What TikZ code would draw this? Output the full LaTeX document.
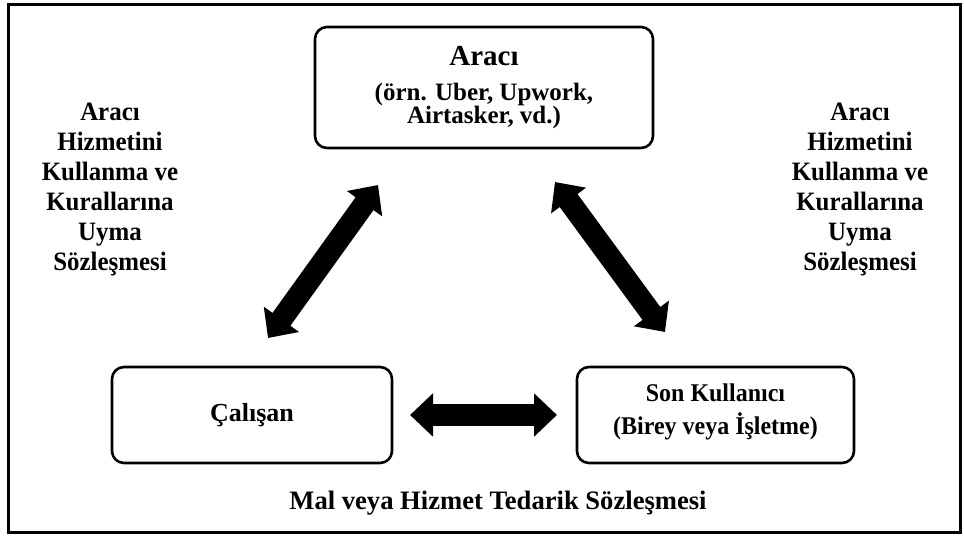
\documentclass[tikz,border=0pt]{standalone}
\usepackage{fontspec}
\setmainfont{Liberation Serif}
\newfontfamily\narrowC[FakeStretch=0.94]{Liberation Serif}
\usetikzlibrary{arrows.meta}
\begin{document}
\begin{tikzpicture}[x=1pt,y=-1pt,
  box/.style={draw, line width=2.6pt, rounded corners=12pt, inner sep=0pt},
  lbl/.style={align=center, font=\narrowC\bfseries\fontsize{26.5}{30}\selectfont},
  dblarrow/.style={line width=22pt, {Triangle[width=42pt 0, length=23pt 0]}-{Triangle[width=42pt 0, length=23pt 0]}}]
\useasboundingbox (0,0) rectangle (964,538);
\draw[line width=3pt] (8.5,4.5) rectangle (960,532);
% boxes
\node[box, minimum width=338pt, minimum height=121pt] (araci) at (484,87.5) {};
\node[box, minimum width=280pt, minimum height=96pt] (calisan) at (252,415) {};
\node[box, minimum width=277pt, minimum height=96pt] (son) at (715.5,415) {};
% box texts
\node[font=\bfseries\fontsize{29}{30}\selectfont] (t1) at (484,56) {Aracı};
\node[align=center, font=\bfseries\fontsize{25}{21}\selectfont] (t2) at (484,106) {(örn. Uber, Upwork,\\Airtasker, vd.)};
\node[font=\bfseries\fontsize{26}{30}\selectfont] (t3) at (252,415) {Çalışan};
\node[align=center, font=\narrowC\bfseries\fontsize{25.5}{33}\selectfont] (t4) at (715.5,412) {Son Kullanıcı\\(Birey veya İşletme)};
% labels
\node[lbl] (l1) at (110,189) {Aracı\\Hizmetini\\Kullanma ve\\Kurallarına\\Uyma\\Sözleşmesi};
\node[lbl] (l2) at (860,189) {Aracı\\Hizmetini\\Kullanma ve\\Kurallarına\\Uyma\\Sözleşmesi};
\node[font=\bfseries\fontsize{26.6}{30}\selectfont] (l3) at (498,503) {Mal veya Hizmet Tedarik Sözleşmesi};
% arrows
\coordinate (a1) at (378,185);
\coordinate (a2) at (268,338);
\coordinate (b1) at (555,182);
\coordinate (b2) at (665,332);
\coordinate (c1) at (410,415);
\coordinate (c2) at (557,415);
\draw[dblarrow] (a1) -- (a2);
\draw[dblarrow] (b1) -- (b2);
\draw[dblarrow] (c1) -- (c2);
\end{tikzpicture}
\end{document}
